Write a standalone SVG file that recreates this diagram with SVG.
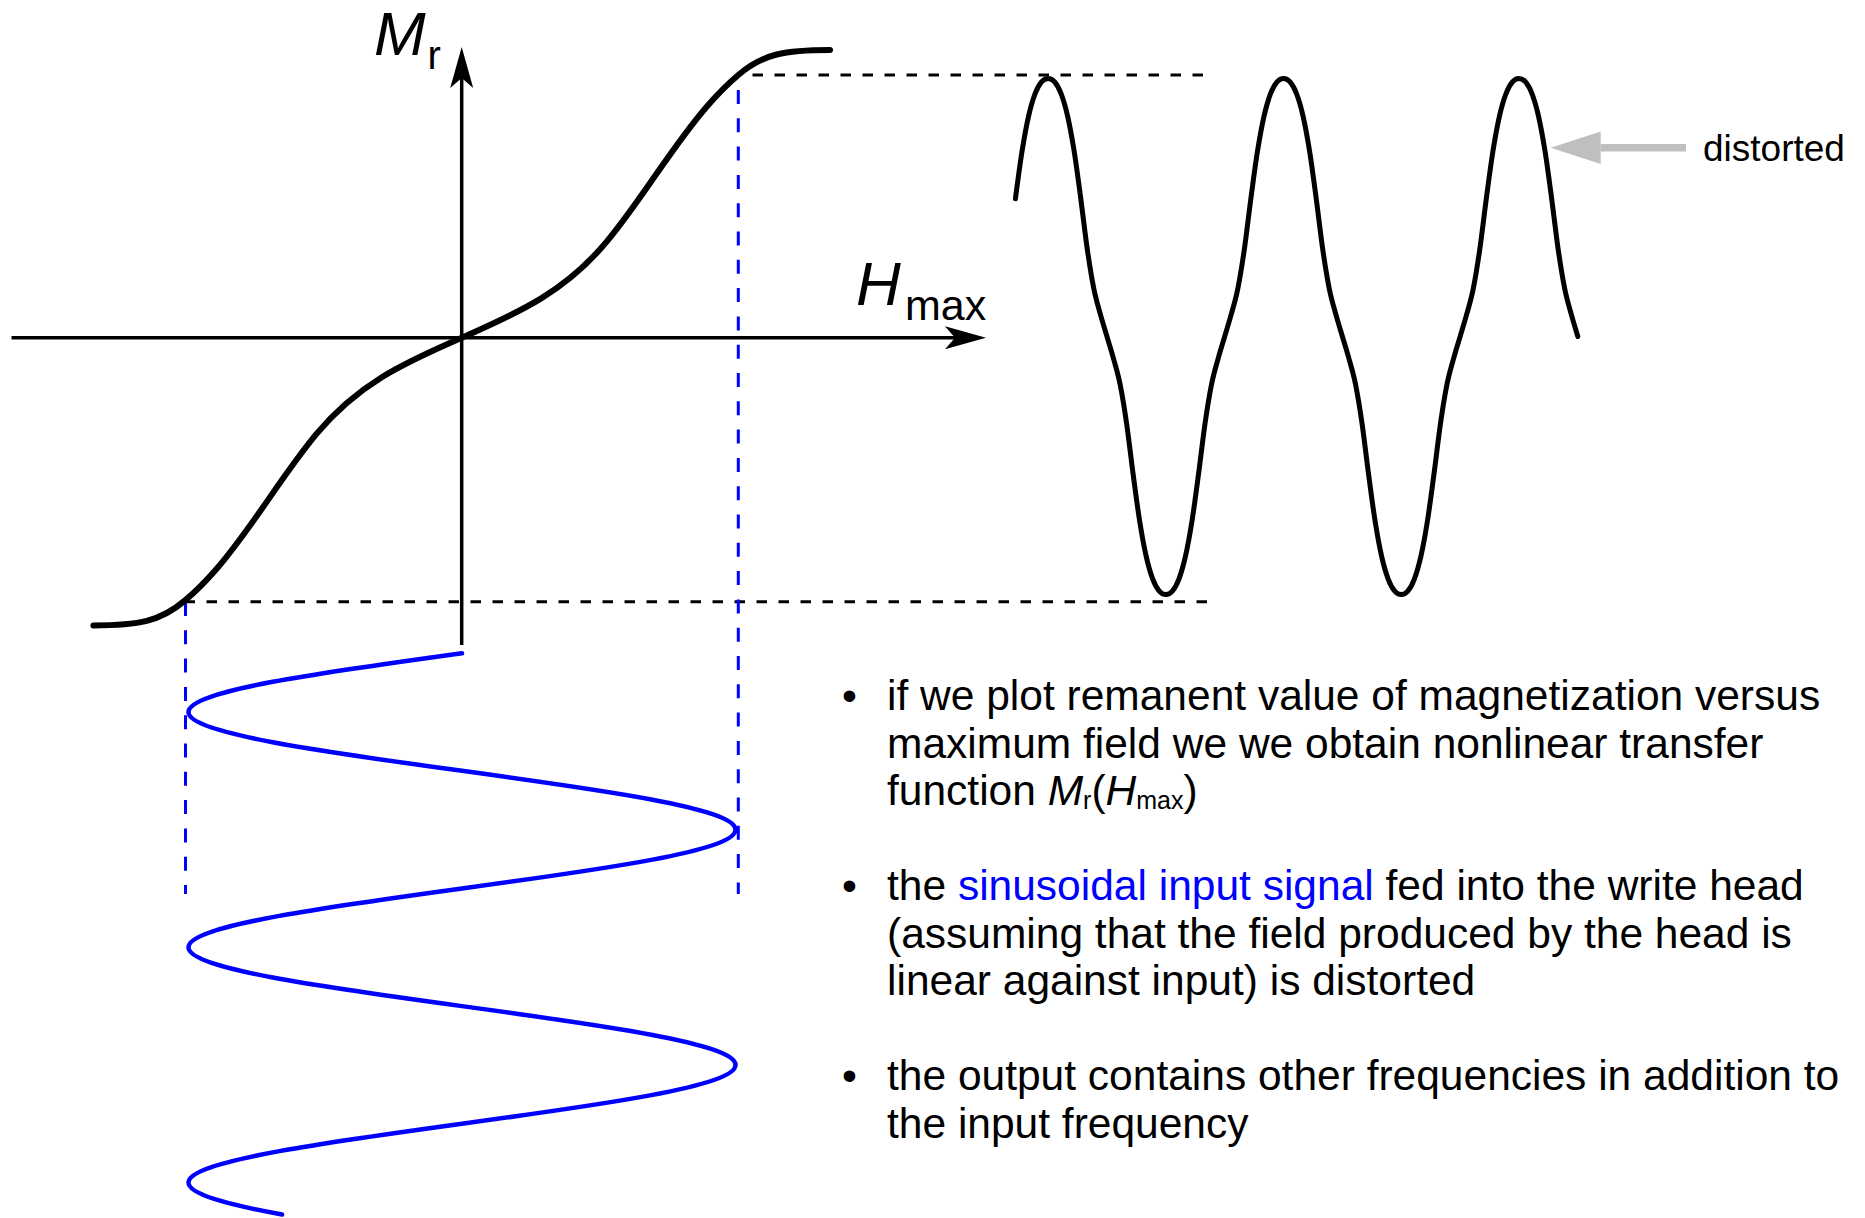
<svg xmlns="http://www.w3.org/2000/svg" width="1865" height="1218" viewBox="0 0 1865 1218">
<defs>
<style>
.axis{stroke:#000;stroke-width:3.5;fill:none}
.curve{stroke:#000;stroke-width:6;fill:none;stroke-linecap:round;stroke-linejoin:round}
.wave{stroke:#000;stroke-width:5;fill:none;stroke-linecap:round;stroke-linejoin:round}
.sine{stroke:#0000ff;stroke-width:4.5;fill:none;stroke-linecap:round}
.bdash{stroke:#000;stroke-width:3;stroke-dasharray:10.5 11.5;fill:none}
.udash{stroke:#0000ff;stroke-width:3;stroke-dasharray:14 14.3;fill:none}
text{font-family:"Liberation Sans",Arial,sans-serif;fill:#000}
.body{font-size:42.5px}
.blue{fill:#0000ff}
</style>
<marker id="axhead" markerUnits="userSpaceOnUse" viewBox="-11 -12 43 24" markerWidth="43" markerHeight="24" refX="0" refY="0" orient="auto">
<path d="M31,0 L-10,-11.5 L0,0 L-10,11.5 Z" fill="#000"/>
</marker>
<marker id="grayhead" markerUnits="userSpaceOnUse" viewBox="0 -17 51 34" markerWidth="51" markerHeight="34" refX="0" refY="0" orient="auto">
<path d="M0,-16.2 L50,0 L0,16.2 Z" fill="#bfbfbf"/>
</marker>
</defs>
<rect width="1865" height="1218" fill="#fff"/>

<g id="guides">
<line class="bdash" x1="741" y1="75" x2="1206" y2="75" style="stroke-dashoffset:10.5"/>
<line class="bdash" x1="184.5" y1="601.7" x2="1210" y2="601.7"/>
<line class="udash" x1="185.5" y1="602" x2="185.5" y2="894"/>
<line class="udash" x1="738.3" y1="75" x2="738.3" y2="894" style="stroke-dashoffset:13.3"/>
</g>

<g id="axes">
<line class="axis" x1="11.5" y1="337.7" x2="955" y2="337.7" marker-end="url(#axhead)"/>
<line class="axis" x1="461.7" y1="645" x2="461.7" y2="78" marker-end="url(#axhead)"/>
</g>

<g id="transfer-curve">
<path class="curve" d="M93.4,625.4 C138.4,625.4 160.1,621.7 185.1,600.4 C195.6,591.5 206.2,580.8 216.7,568.7 C251.7,528.45 281.7,475.7 316.7,433.7 C361.7,379.7 411.7,360.2 461.7,337.7 C511.7,315.2 561.7,295.7 606.7,241.7 C641.7,199.7 671.7,146.95 706.7,106.7 C717.2,94.6 727.8,83.9 738.3,75 C763.3,53.7 785,50 830,50"/>
</g>

<g id="input-sine">
<path class="sine" d="M462,653.2 C321.9,672.38 188.5,690.73 188.5,712.02 C188.5,733.31 321.9,751.66 462,770.84 C602.1,790.02 735.5,808.37 735.5,829.66 C735.5,850.95 602.1,869.3 462,888.48 C321.9,907.66 188.5,926.01 188.5,947.3 C188.5,968.59 321.9,986.94 462,1006.12 C602.1,1025.3 735.5,1043.65 735.5,1064.94 C735.5,1086.23 602.1,1104.58 462,1123.76 C321.9,1142.94 188.5,1161.29 188.5,1182.58 C188.5,1193.86 225.97,1204.32 282.05,1214.52"/>
</g>

<g id="distorted-wave">
<path class="wave" d="M1015.4,198.8
c2.18,-16.28 4.36,-33.2 6.54,-46.9 c2.18,-13.7 4.36,-25.63 6.54,-35.3 c2.18,-9.67 4.36,-16.92 6.54,-22.7 c2.18,-5.78 4.36,-9.43 6.54,-12 c2.18,-2.57 4.36,-3.4 6.54,-3.4 c2.18,0 4.36,0.83 6.54,3.4 c2.18,2.57 4.36,6.22 6.54,12 c2.18,5.78 4.36,13.03 6.54,22.7 c2.18,9.67 4.36,21.6 6.54,35.3 c2.18,13.7 4.36,30.62 6.54,46.9 c2.18,16.28 4.36,35.78 6.54,50.8 c2.18,15.02 4.36,28.5 6.54,39.3 c2.18,10.8 4.36,17.57 6.54,25.5 c2.18,7.93 4.36,14.73 6.54,22.1 c2.18,7.37 4.36,14.17 6.54,22.1 c2.18,7.93 4.36,14.7 6.54,25.5 c2.18,10.8 4.36,24.28 6.54,39.3 c2.18,15.02 4.36,34.52 6.54,50.8 c2.18,16.28 4.36,33.2 6.54,46.9 c2.18,13.7 4.36,25.63 6.54,35.3 c2.18,9.67 4.36,16.92 6.54,22.7 c2.18,5.78 4.36,9.43 6.54,12 c2.18,2.57 4.36,3.4 6.54,3.4 c2.18,0 4.36,-0.83 6.54,-3.4 c2.18,-2.57 4.36,-6.22 6.54,-12 c2.18,-5.78 4.36,-13.03 6.54,-22.7 c2.18,-9.67 4.36,-21.6 6.54,-35.3 c2.18,-13.7 4.36,-30.62 6.54,-46.9 c2.18,-16.28 4.36,-35.78 6.54,-50.8 c2.18,-15.02 4.36,-28.5 6.54,-39.3 c2.18,-10.8 4.36,-17.57 6.54,-25.5 c2.18,-7.93 4.36,-14.73 6.54,-22.1
c2.18,-7.37 4.36,-14.17 6.54,-22.1 c2.18,-7.93 4.36,-14.7 6.54,-25.5 c2.18,-10.8 4.36,-24.28 6.54,-39.3 c2.18,-15.02 4.36,-34.52 6.54,-50.8 c2.18,-16.28 4.36,-33.2 6.54,-46.9 c2.18,-13.7 4.36,-25.63 6.54,-35.3 c2.18,-9.67 4.36,-16.92 6.54,-22.7 c2.18,-5.78 4.36,-9.43 6.54,-12 c2.18,-2.57 4.36,-3.4 6.54,-3.4 c2.18,0 4.36,0.83 6.54,3.4 c2.18,2.57 4.36,6.22 6.54,12 c2.18,5.78 4.36,13.03 6.54,22.7 c2.18,9.67 4.36,21.6 6.54,35.3 c2.18,13.7 4.36,30.62 6.54,46.9 c2.18,16.28 4.36,35.78 6.54,50.8 c2.18,15.02 4.36,28.5 6.54,39.3 c2.18,10.8 4.36,17.57 6.54,25.5 c2.18,7.93 4.36,14.73 6.54,22.1 c2.18,7.37 4.36,14.17 6.54,22.1 c2.18,7.93 4.36,14.7 6.54,25.5 c2.18,10.8 4.36,24.28 6.54,39.3 c2.18,15.02 4.36,34.52 6.54,50.8 c2.18,16.28 4.36,33.2 6.54,46.9 c2.18,13.7 4.36,25.63 6.54,35.3 c2.18,9.67 4.36,16.92 6.54,22.7 c2.18,5.78 4.36,9.43 6.54,12 c2.18,2.57 4.36,3.4 6.54,3.4 c2.18,0 4.36,-0.83 6.54,-3.4 c2.18,-2.57 4.36,-6.22 6.54,-12 c2.18,-5.78 4.36,-13.03 6.54,-22.7 c2.18,-9.67 4.36,-21.6 6.54,-35.3 c2.18,-13.7 4.36,-30.62 6.54,-46.9 c2.18,-16.28 4.36,-35.78 6.54,-50.8 c2.18,-15.02 4.36,-28.5 6.54,-39.3 c2.18,-10.8 4.36,-17.57 6.54,-25.5 c2.18,-7.93 4.36,-14.73 6.54,-22.1
c2.18,-7.37 4.36,-14.17 6.54,-22.1 c2.18,-7.93 4.36,-14.7 6.54,-25.5 c2.18,-10.8 4.36,-24.28 6.54,-39.3 c2.18,-15.02 4.36,-34.52 6.54,-50.8 c2.18,-16.28 4.36,-33.2 6.54,-46.9 c2.18,-13.7 4.36,-25.63 6.54,-35.3 c2.18,-9.67 4.36,-16.92 6.54,-22.7 c2.18,-5.78 4.36,-9.43 6.54,-12 c2.18,-2.57 4.36,-3.4 6.54,-3.4 c2.18,0 4.36,0.83 6.54,3.4 c2.18,2.57 4.36,6.22 6.54,12 c2.18,5.78 4.36,13.03 6.54,22.7 c2.18,9.67 4.36,21.6 6.54,35.3 c2.18,13.7 4.36,30.62 6.54,46.9 c2.18,16.28 4.36,35.78 6.54,50.8 c2.18,15.02 4.36,28.5 6.54,39.3 c2.18,10.8 4.36,17.57 6.54,25.5 c2.18,7.93 4.36,14.73 6.54,22.1"/>
</g>

<g id="distorted-label">
<line x1="1686" y1="147.7" x2="1600.7" y2="147.7" stroke="#bfbfbf" stroke-width="7.5" marker-end="url(#grayhead)"/>
<text x="1703" y="161" font-size="37">distorted</text>
</g>

<g id="axis-labels">
<text x="374" y="55" font-size="62" font-style="italic">M</text>
<text x="427.5" y="69" font-size="40">r</text>
<text x="856" y="305" font-size="62" font-style="italic">H</text>
<text x="905" y="320" font-size="43">max</text>
</g>

<g id="bullets" class="body">
<text x="842" y="710">•</text>
<text x="887" y="710">if we plot remanent value of magnetization versus</text>
<text x="887" y="757.5">maximum field we we obtain nonlinear transfer</text>
<text x="887" y="805">function <tspan font-style="italic">M</tspan><tspan font-size="25" dy="4">r</tspan><tspan dy="-4">(</tspan><tspan font-style="italic">H</tspan><tspan font-size="25" dy="4">max</tspan><tspan dy="-4">)</tspan></text>
<text x="842" y="900">•</text>
<text x="887" y="900">the <tspan class="blue">sinusoidal input signal</tspan> fed into the write head</text>
<text x="887" y="947.5">(assuming that the field produced by the head is</text>
<text x="887" y="995">linear against input) is distorted</text>
<text x="842" y="1090">•</text>
<text x="887" y="1090">the output contains other frequencies in addition to</text>
<text x="887" y="1137.5">the input frequency</text>
</g>
</svg>
